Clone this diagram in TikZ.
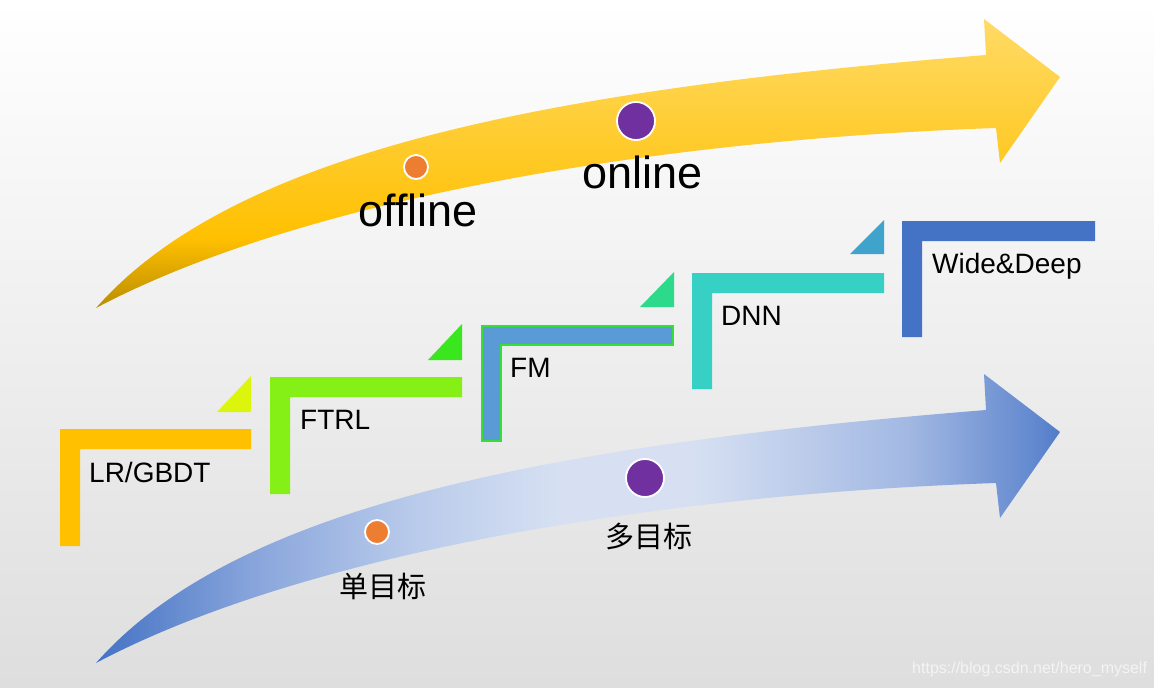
\documentclass[tikz,border=0pt]{standalone}
\usepackage{fontspec}
\setmainfont{Liberation Sans}
\newfontfamily\cjk{Noto Sans CJK SC}
\definecolor{bgtop}{HTML}{FFFFFF}
\definecolor{bgbot}{HTML}{DEDEDE}
\definecolor{goldD}{HTML}{BA8C00}
\definecolor{goldM}{HTML}{FFC000}
\definecolor{goldL}{HTML}{FFDA66}
\definecolor{blueD}{HTML}{4472C4}
\definecolor{blueA}{HTML}{87A4DB}
\definecolor{blueB}{HTML}{B7C9EA}
\definecolor{blueL}{HTML}{D6E0F2}
\definecolor{blueC}{HTML}{A3B9E3}
\definecolor{blueE}{HTML}{5F86CE}
\definecolor{dotO}{HTML}{ED7D31}
\definecolor{dotP}{HTML}{7030A0}
\definecolor{cLR}{HTML}{FFC000}
\definecolor{cFTRL}{HTML}{85F015}
\definecolor{cFM}{HTML}{5B9BD5}
\definecolor{cFMb}{HTML}{33E03A}
\definecolor{cDNN}{HTML}{36D1C4}
\definecolor{cWD}{HTML}{4472C4}
\definecolor{tA}{HTML}{DCF50C}
\definecolor{tB}{HTML}{3AE61E}
\definecolor{tC}{HTML}{2DD98A}
\definecolor{tD}{HTML}{3FA3CB}
\definecolor{wm}{HTML}{F4F4F4}
\pgfdeclareverticalshading{toparrowshade}{100bp}{color(0bp)=(goldD); color(25bp)=(goldD); color(37bp)=(goldM); color(75bp)=(goldL); color(100bp)=(goldL)}
\pgfdeclarehorizontalshading{botarrowshade}{100bp}{color(0bp)=(blueD); color(25bp)=(blueD); color(33bp)=(blueA); color(41bp)=(blueB); color(49bp)=(blueL); color(56bp)=(blueL); color(67bp)=(blueC); color(74bp)=(blueE); color(76bp)=(blueD); color(100bp)=(blueD)}
\tikzset{
  dot/.style={circle, draw=white, line width=1.8pt, inner sep=0pt},
  smalldot/.style={dot, fill=dotO, minimum size=24pt},
  bigdot/.style={dot, fill=dotP, minimum size=38pt},
  bigtxt/.style={inner sep=0pt, font=\fontsize{45}{54}\selectfont, text=black},
  cjktxt/.style={inner sep=0pt, font=\cjk\fontsize{29}{34}\selectfont, text=black},
  steptxt/.style={inner sep=0pt, anchor=base west, font=\fontsize{28}{34}\selectfont, text=black},
  wmtxt/.style={inner sep=0pt, anchor=base west, font=\fontsize{16}{19}\selectfont, text=wm}
}
\begin{document}
\begin{tikzpicture}[x=1pt,y=-1pt]
\useasboundingbox (0,0) rectangle (1154,688);
% background
\shade[top color=bgtop, bottom color=bgbot] (0,0) rectangle (1154,688);
% top arrow
\shade[shading=toparrowshade]
  (96,308) .. controls (235,150) and (550,90) .. (986,55) -- (984,19) -- (1060,77) -- (1000,163) -- (996,128)
  .. controls (650,140) and (300,200) .. (96,308) -- cycle;
% bottom arrow
\begin{scope}[shift={(0,355)}]
\shade[shading=botarrowshade]
  (96,308) .. controls (235,150) and (550,90) .. (986,55) -- (984,19) -- (1060,77) -- (1000,163) -- (996,128)
  .. controls (650,140) and (300,200) .. (96,308) -- cycle;
\end{scope}
% steps
\foreach \xa/\xb/\ya/\yb/\col in {60/251/429/546/cLR, 270/462/377/494/cFTRL, 692/884/273/389/cDNN, 902/1095/221/337/cWD}{
  \fill[\col] (\xa,\ya) -- (\xb,\ya) -- (\xb,\ya+20) -- (\xa+20,\ya+20) -- (\xa+20,\yb) -- (\xa,\yb) -- cycle;
}
\filldraw[fill=cFM, draw=cFMb, line width=1.5pt] (482,326) -- (673,326) -- (673,345) -- (501,345) -- (501,441) -- (482,441) -- cycle;
% triangles
\foreach \xb/\yt/\yb/\col in {251/376/412/tA, 462/324/360/tB, 674/272/307/tC, 884/220/254/tD}{
  \fill[\col] (\xb,\yt) -- (\xb,\yb) -- (\xb-34,\yb) -- cycle;
}
% dots and texts, top
\node[smalldot] (doff) at (416,167) {};
\node[bigdot] (don) at (636,121) {};
\node[bigtxt, anchor=base] (offline) at (418,226) {offline};
\node[bigtxt, anchor=base] (online) at (643,188) {online};
% dots and texts, bottom
\node[smalldot] (dsingle) at (377,532) {};
\node[bigdot] (dmulti) at (645,478) {};
\node[cjktxt] (single) at (383,586) {单目标};
\node[cjktxt] (multi) at (649,536) {多目标};
% step labels
\node[steptxt] (lr) at (89,482) {LR/GBDT};
\node[steptxt] (ftrl) at (300,429) {FTRL};
\node[steptxt] (fm) at (510,377) {FM};
\node[steptxt] (dnn) at (721,325) {DNN};
\node[steptxt] (wd) at (932,273) {Wide\&Deep};
% watermark
\node[wmtxt] (wmark) at (912,673) {https://blog.csdn.net/hero\_myself};
\end{tikzpicture}
\end{document}
